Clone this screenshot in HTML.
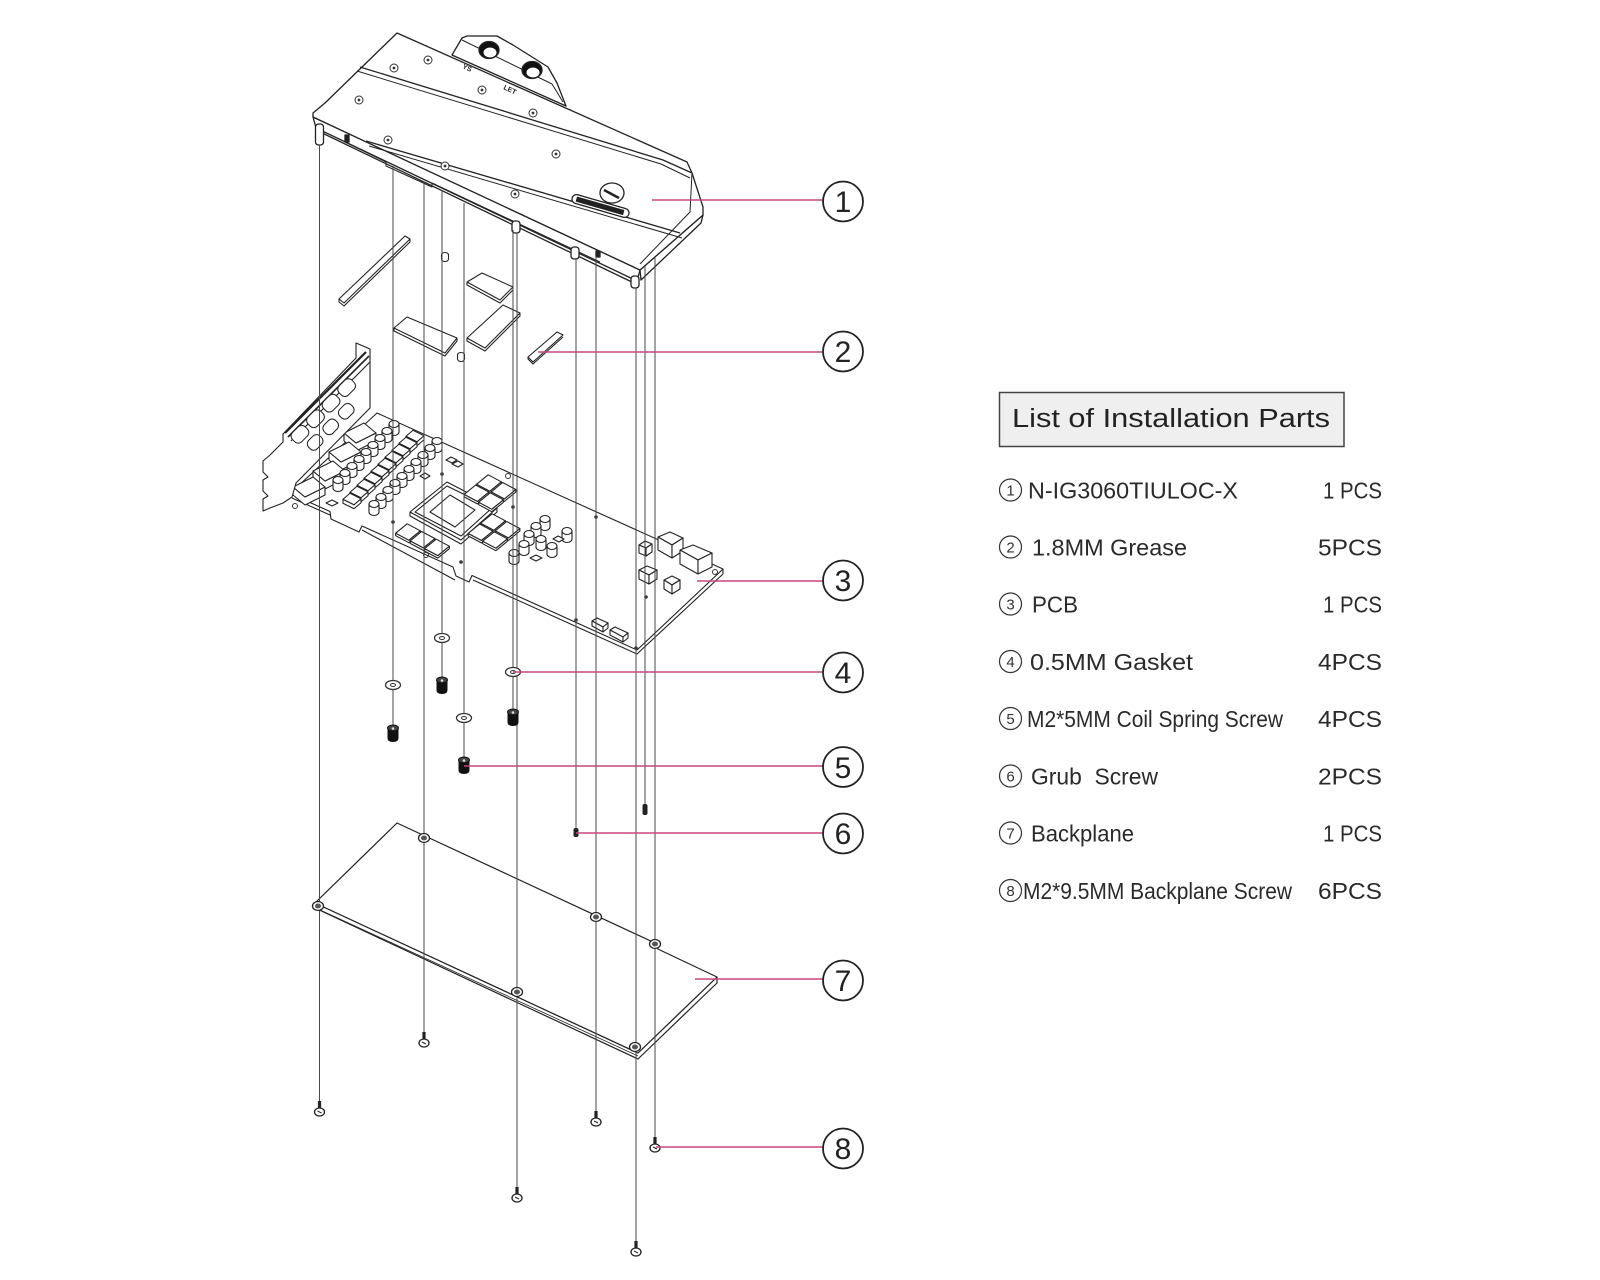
<!DOCTYPE html>
<html><head><meta charset="utf-8"><style>html,body{margin:0;padding:0;background:#fff}svg{display:block}</style></head>
<body>
<svg width="1600" height="1280" viewBox="0 0 1600 1280" xmlns="http://www.w3.org/2000/svg">
<defs>
<g id="cap"><path d="M-5,0 V8 A5,3.5 0 0 0 5,8 V0" fill="#fff"/><ellipse rx="5" ry="3.5" fill="#fff"/></g>
<g id="chip"><polygon points="-12.35,1.2 0.85,8.2 12.35,-1.2 12.35,1.3 0.85,10.7 -12.35,3.7" fill="#fff"/><polygon points="-0.85,-8.2 12.35,-1.2 0.85,8.2 -12.35,1.2" fill="#fff"/></g>
<g id="choke"><polygon points="-9,0.25 2,5.75 9,-0.25 9,3.75 2,9.75 -9,4.25" fill="#fff"/><polygon points="-2,-5.75 9,-0.25 2,5.75 -9,0.25" fill="#fff"/></g>
<g id="big"><polygon points="-16,0 -4,10 16,0 16,8 -4,18 -16,8" fill="#fff"/><polygon points="4,-10 16,0 -4,10 -16,0" fill="#fff"/></g>
<g id="hole"><circle r="4" fill="#fff" stroke="#333" stroke-width="1"/><circle r="1.4" fill="#333"/></g>
<g id="gasket"><ellipse rx="7.5" ry="4.5" fill="#fff" stroke="#333" stroke-width="1.3"/><ellipse rx="2.5" ry="1.5" fill="#fff" stroke="#333" stroke-width="1"/></g>
<g id="cscrew"><path d="M-5.5,-5 V5 Q-5.5,9 0,9 Q5.5,9 5.5,5 V-5 Z" fill="#111"/><ellipse cy="-5" rx="5.5" ry="3" fill="#444" stroke="#111"/><circle cy="-4.5" r="1.3" fill="#ddd"/></g>
<g id="bscrew"><rect x="-1.6" y="-11" width="3.2" height="8" fill="#222"/><ellipse rx="5" ry="4" fill="#fff" stroke="#222" stroke-width="1.3"/><path d="M-2,-1 L2,1" stroke="#222" stroke-width="1"/></g>
<g id="nut"><ellipse rx="5.5" ry="4.5" fill="#fff" stroke="#222" stroke-width="1.3"/><ellipse rx="3" ry="2.5" fill="#555"/></g>
</defs>

<rect width="1600" height="1280" fill="#fff"/>

<!-- Grease pads -->
<g stroke="#222" stroke-width="1.1" fill="#fff" stroke-linejoin="round">
<polygon points="339,299 405,236 410,239 344,303"/>
<polyline points="339,299 339,302 344,306 410,242 410,239" fill="none"/>
<polygon points="467,282 482,273 513,287 500,300"/>
<polyline points="467,282 467,285 500,303 513,290 513,287" fill="none"/>
<polygon points="394,328 407,317 457,338 445,353"/>
<polyline points="394,328 394,331 445,356 457,341 457,338" fill="none"/>
<polygon points="467,338 503,305 520,313 485,348"/>
<polyline points="467,338 467,341 485,351 520,316 520,313" fill="none"/>
<polygon points="528,357 557,332 563,335 533,362"/>
<polyline points="528,357 528,359 533,364 563,337" fill="none"/>
<ellipse cx="445" cy="255" rx="3.5" ry="2.5"/><path d="M441.5,255 v4 a3.5,2.5 0 0 0 7,0 v-4" />
<ellipse cx="461" cy="355" rx="3.5" ry="2.5"/><path d="M457.5,355 v4 a3.5,2.5 0 0 0 7,0 v-4"/>
</g>

<!-- PCB -->
<g stroke="#222" stroke-width="1.1" fill="#fff" stroke-linejoin="round">
<polygon points="377,413 723,569 637,650 472,575.5 469,582 456,576 453,567 362,526 359,532 331,519 330,511.5 290,493.5"/>
<polyline points="723,569 723,574 637,654 473,580" fill="none"/>
<polyline points="455,580 362,530" fill="none"/>
<polyline points="330,515 292,498" fill="none"/>
<!-- big VRM boxes near bracket -->
<use href="#big" x="360" y="433"/>
<use href="#big" x="345" y="452"/>
<use href="#big" x="329" y="471"/>
<use href="#big" x="309" y="487"/>
<!-- cap row 1 -->
<use href="#cap" x="394" y="424"/><use href="#cap" x="387" y="431"/><use href="#cap" x="380" y="438"/>
<use href="#cap" x="373" y="445"/><use href="#cap" x="366" y="452"/><use href="#cap" x="359" y="459"/>
<use href="#cap" x="352" y="466"/><use href="#cap" x="345" y="473"/><use href="#cap" x="338" y="480"/>
<!-- choke column -->
<use href="#choke" x="415" y="436"/><use href="#choke" x="408" y="443"/><use href="#choke" x="401" y="450"/>
<use href="#choke" x="394" y="457"/><use href="#choke" x="387" y="464"/><use href="#choke" x="380" y="471"/>
<use href="#choke" x="373" y="478"/><use href="#choke" x="366" y="485"/><use href="#choke" x="359" y="492"/>
<use href="#choke" x="352" y="499"/>
<!-- cap row 2 -->
<use href="#cap" x="437" y="441"/><use href="#cap" x="430" y="448"/><use href="#cap" x="423" y="455"/>
<use href="#cap" x="416" y="462"/><use href="#cap" x="409" y="469"/><use href="#cap" x="402" y="476"/>
<use href="#cap" x="395" y="483"/><use href="#cap" x="388" y="490"/><use href="#cap" x="381" y="497"/>
<use href="#cap" x="374" y="504"/>
<!-- small chips -->
<polygon points="446,460 451,457 457,460 452,463"/><polygon points="452,464 458,461 463,464 458,467"/>
<polygon points="420,476 425,473 430,476 425,479"/>
<polygon points="326,503 332,500 338,503 332,506"/>
<!-- GPU -->
<polygon points="410,512 447,482 497,508 461,540"/>
<polyline points="410,512 410,516 461,544 497,512 497,508" fill="none"/>
<polygon points="415,512 447,486 492,508 461,536" fill="none"/>
<polygon points="430,512 450,495 475,510 455,527"/>
<!-- VRAM -->
<use href="#chip" x="489" y="483"/><use href="#chip" x="503.5" y="490.7"/>
<use href="#chip" x="476.5" y="493.2"/><use href="#chip" x="491" y="501"/>
<use href="#chip" x="493" y="522"/><use href="#chip" x="507.5" y="529.7"/>
<use href="#chip" x="480.5" y="532.2"/><use href="#chip" x="495" y="540"/>
<use href="#chip" x="408" y="532"/><use href="#chip" x="422.5" y="539.7"/><use href="#chip" x="437" y="547.4"/>
<!-- right area caps -->
<use href="#cap" x="545" y="519"/><use href="#cap" x="536" y="526"/><use href="#cap" x="567" y="531"/>
<use href="#cap" x="529" y="534"/><use href="#cap" x="541" y="539"/><use href="#cap" x="524" y="544"/>
<use href="#cap" x="552" y="546"/><use href="#cap" x="514" y="553"/>
<polygon points="530,558 536,555 542,558 536,561"/><polygon points="553,539 558,536 564,539 559,542"/>
<!-- power connectors -->
<polygon points="658,537 670,532 683,538 672,545"/>
<polygon points="658,537 672,545 672,558 658,550"/>
<polygon points="672,545 683,538 683,551 672,558"/>
<polygon points="680,550 693,545 712,553 698,560"/>
<polygon points="680,550 698,560 698,574 680,564"/>
<polygon points="698,560 712,553 712,567 698,574"/>
<!-- small cubes -->
<polygon points="639,545 645,541 652,544 646,548"/><polygon points="639,545 646,548 646,556 639,553"/><polygon points="646,548 652,544 652,552 646,556"/>
<polygon points="639,570 647,566 657,570 649,575"/><polygon points="639,570 649,575 649,584 639,579"/><polygon points="649,575 657,570 657,579 649,584"/>
<polygon points="664,580 672,576 680,580 672,585"/><polygon points="664,580 672,585 672,594 664,589"/><polygon points="672,585 680,580 680,589 672,594"/>
<polygon points="592,621 597,618 608,623 603,627"/><polygon points="592,621 603,627 603,632 592,626"/><polygon points="603,627 608,623 608,628 603,632"/>
<polygon points="610,630 615,627 628,633 623,637"/><polygon points="610,630 623,637 623,642 610,635"/><polygon points="623,637 628,633 628,638 623,642"/>
</g>
<!-- PCB holes -->
<g fill="#333">
<circle cx="393" cy="522" r="1.8"/><circle cx="442" cy="474" r="1.8"/><circle cx="461" cy="562" r="1.8"/>
<circle cx="513" cy="507" r="1.8"/><circle cx="576" cy="620" r="1.8"/><circle cx="596" cy="517" r="1.8"/>
<circle cx="636" cy="648" r="1.8"/><circle cx="646" cy="597" r="1.8"/>
</g>
<g fill="none" stroke="#333" stroke-width="1"><circle cx="426" cy="555" r="2.5"/><circle cx="508" cy="476" r="2.5"/><circle cx="715" cy="572" r="2.5"/><circle cx="295" cy="506" r="2.5"/></g>

<!-- Bracket -->
<g stroke="#222" stroke-width="1.1" fill="#fff" stroke-linejoin="round">
<polygon points="356,343 370,349 370,408 296,483 292,497 283,503 270,508 263,511 263,499 268,496 263,491 263,480 268,477 263,472 263,461 270,455 283,442 283,434 356,358"/>
<line x1="366" y1="352" x2="285" y2="433" stroke-width="2.2"/>
<line x1="369" y1="356" x2="288" y2="437" stroke-width="1.6"/>
<line x1="370" y1="362" x2="291" y2="441"/>
<g transform="rotate(-45 330 412)" stroke-width="1">
<rect x="284" y="400" width="18" height="13" rx="5"/><rect x="306" y="400" width="18" height="13" rx="5"/>
<rect x="328" y="400" width="18" height="13" rx="5"/><rect x="350" y="400" width="18" height="13" rx="5"/>
<rect x="290" y="417" width="16" height="12" rx="5"/><rect x="312" y="417" width="16" height="12" rx="5"/>
<rect x="334" y="417" width="16" height="12" rx="5"/>
</g>
</g>

<!-- Block -->
<g stroke="#222" stroke-width="1.3" fill="#fff" stroke-linejoin="round">
<polygon points="313,117 640,270 637,281 316,128"/>
<polygon points="703,215 701,223 641,280 640,270"/>
<polyline points="318,131 636,284" fill="none"/>
<polyline points="345,142 386,162 386,166 432,187 432,183 600,262" fill="none" stroke-width="1"/>
<polygon points="397,33 687,162 692,173 703,207 703,215 640,270 313,117 313,113 325,103"/>
<polyline points="360,67 663,160 692,173" fill="none"/>
<polyline points="357,71 661,164 690,178" fill="none" stroke-width="1"/>
<polyline points="366,141 680,233" fill="none"/>
<polyline points="369,146 682,238" fill="none" stroke-width="1"/>
<polyline points="692,173 690,212 640,264" fill="none" stroke-width="1"/>
<!-- terminal -->
<polygon points="452,55 462,38 467,36 497,36 513,45 548,67 557,83 566,106"/>
<polyline points="462,40 552,84 563,102" fill="none" stroke-width="1"/>
<ellipse cx="489" cy="50" rx="10" ry="8.5" fill="#111"/>
<ellipse cx="490" cy="52.5" rx="6.5" ry="5" fill="#fff" stroke="none"/>
<ellipse cx="532" cy="70" rx="10" ry="8.5" fill="#111"/>
<ellipse cx="533" cy="72.5" rx="6.5" ry="5" fill="#fff" stroke="none"/>
<!-- logo / nameplate -->
<ellipse cx="612" cy="193" rx="12" ry="10"/>
<line x1="604" y1="190" x2="619" y2="198" stroke-width="2.5"/>
<g transform="rotate(16 600.5 206)"><rect x="571" y="201.5" width="59" height="9" rx="4.5"/><rect x="576" y="204" width="48" height="4" fill="#222"/></g>
<!-- posts -->
<rect x="315.5" y="124" width="8" height="21" rx="3"/>
<rect x="512" y="221" width="8" height="12" rx="3"/>
<rect x="571" y="247" width="8" height="12" rx="3"/>
<rect x="631" y="276" width="8" height="12" rx="3"/>
<rect x="345" y="135" width="4" height="7" fill="#222"/>
<rect x="596" y="251" width="4" height="6" fill="#222"/>
</g>
<g font-family="Liberation Sans, sans-serif" font-size="7" font-weight="bold" fill="#222">
<text x="462" y="68" transform="rotate(25 462 68)">YS</text>
<text x="503" y="89" transform="rotate(25 503 89)">LET</text>
</g>
<use href="#hole" x="394" y="68"/><use href="#hole" x="428" y="60"/><use href="#hole" x="359" y="100"/>
<use href="#hole" x="482" y="90"/><use href="#hole" x="533" y="113"/><use href="#hole" x="388" y="140"/>
<use href="#hole" x="445" y="166"/><use href="#hole" x="556" y="154"/><use href="#hole" x="515" y="194"/>

<!-- Backplane -->
<g stroke="#222" stroke-width="1.2" fill="#fff" stroke-linejoin="round">
<polygon points="315,903 315,908 638,1059 717,983 717,977 638,1053"/>
<polygon points="397,823 655,943 658,949 662,951 717,977 638,1053 315,903"/>
<polyline points="318,909 638,1056" fill="none" stroke-width="0.8"/>
</g>

<!-- Vertical guide lines -->
<g stroke="#4a4a4a" stroke-width="1">
<line x1="319.5" y1="145" x2="319.5" y2="1106"/>
<line x1="393" y1="166" x2="393" y2="727"/>
<line x1="424" y1="182" x2="424" y2="1037"/>
<line x1="442" y1="190" x2="442" y2="680"/>
<line x1="464" y1="203" x2="464" y2="759"/>
<line x1="513" y1="230" x2="513" y2="711"/>
<line x1="517" y1="233" x2="517" y2="1192"/>
<line x1="576" y1="259" x2="576" y2="829"/>
<line x1="596" y1="256" x2="596" y2="1117"/>
<line x1="636" y1="288" x2="636" y2="1246"/>
<line x1="645" y1="266" x2="645" y2="804"/>
<line x1="655" y1="258" x2="655" y2="1142"/>
</g>

<!-- gaskets / screws -->
<use href="#gasket" x="442" y="638"/><use href="#gasket" x="393" y="685"/>
<use href="#gasket" x="464" y="718"/><use href="#gasket" x="513" y="672"/>
<use href="#cscrew" x="393" y="733"/><use href="#cscrew" x="442" y="685"/>
<use href="#cscrew" x="464" y="765"/><use href="#cscrew" x="513" y="717"/>
<rect x="573.5" y="828" width="5" height="9" rx="2" fill="#222"/>
<rect x="642.5" y="804" width="5" height="11" rx="2" fill="#222"/>
<use href="#nut" x="424" y="838"/><use href="#nut" x="596" y="917"/><use href="#nut" x="655" y="944"/>
<use href="#nut" x="517" y="992"/><use href="#nut" x="635" y="1047"/><use href="#nut" x="318" y="906"/>
<use href="#bscrew" x="319.5" y="1112"/><use href="#bscrew" x="424" y="1043"/><use href="#bscrew" x="517" y="1198"/>
<use href="#bscrew" x="596" y="1122"/><use href="#bscrew" x="636" y="1252"/><use href="#bscrew" x="655" y="1148"/>

<!-- Leaders -->
<g stroke="#c8467f" stroke-width="1.6">
<line x1="652" y1="200" x2="823" y2="200"/>
<line x1="538" y1="352" x2="823" y2="352"/>
<line x1="697" y1="581" x2="823" y2="581"/>
<line x1="513" y1="672" x2="823" y2="672"/>
<line x1="464" y1="766" x2="823" y2="766"/>
<line x1="576" y1="833" x2="823" y2="833"/>
<line x1="695" y1="979" x2="823" y2="979"/>
<line x1="656" y1="1147" x2="823" y2="1147"/>
</g>

<!-- Callout circles -->
<g fill="#fff" stroke="#222" stroke-width="1.8">
<circle cx="843" cy="201.5" r="20"/><circle cx="843" cy="351.5" r="20"/>
<circle cx="843" cy="580.5" r="20"/><circle cx="843" cy="672.5" r="20"/>
<circle cx="843" cy="767" r="20"/><circle cx="843" cy="833.5" r="20"/>
<circle cx="843" cy="980.5" r="20"/><circle cx="843" cy="1148.5" r="20"/>
</g>
<g font-family="Liberation Sans, sans-serif" font-size="30" fill="#222" text-anchor="middle">
<text x="843" y="212">1</text><text x="843" y="362">2</text>
<text x="843" y="591">3</text><text x="843" y="683">4</text>
<text x="843" y="778">5</text><text x="843" y="844">6</text>
<text x="843" y="991">7</text><text x="843" y="1159">8</text>
</g>

<!-- Parts list -->
<rect x="999.5" y="392.5" width="344.5" height="54" fill="#efefef" stroke="#444" stroke-width="1.5"/>
<text x="1012" y="427" font-family="Liberation Sans, sans-serif" font-size="25.5" fill="#222" textLength="318" lengthAdjust="spacingAndGlyphs">List of Installation Parts</text>

<g fill="none" stroke="#333" stroke-width="1.2">
<circle cx="1010.5" cy="490" r="11"/><circle cx="1010.5" cy="547" r="11"/>
<circle cx="1010.5" cy="604" r="11"/><circle cx="1010.5" cy="661.5" r="11"/>
<circle cx="1010.5" cy="718.5" r="11"/><circle cx="1010.5" cy="776" r="11"/>
<circle cx="1010.5" cy="833" r="11"/><circle cx="1010.5" cy="890.5" r="11"/>
</g>
<g font-family="Liberation Sans, sans-serif" font-size="15" fill="#333" text-anchor="middle">
<text x="1010.5" y="495.5">1</text><text x="1010.5" y="552.5">2</text>
<text x="1010.5" y="609.5">3</text><text x="1010.5" y="667">4</text>
<text x="1010.5" y="724">5</text><text x="1010.5" y="781.5">6</text>
<text x="1010.5" y="838.5">7</text><text x="1010.5" y="896">8</text>
</g>
<g font-family="Liberation Sans, sans-serif" font-size="23" fill="#2a2a2a" lengthAdjust="spacingAndGlyphs">
<text x="1028" y="498.5" textLength="210" lengthAdjust="spacingAndGlyphs">N-IG3060TIULOC-X</text>
<text x="1032" y="555.5" textLength="155" lengthAdjust="spacingAndGlyphs">1.8MM Grease</text>
<text x="1032" y="612.5" textLength="46" lengthAdjust="spacingAndGlyphs">PCB</text>
<text x="1030" y="670" textLength="163" lengthAdjust="spacingAndGlyphs">0.5MM Gasket</text>
<text x="1027" y="727" textLength="256" lengthAdjust="spacingAndGlyphs">M2*5MM Coil Spring Screw</text>
<text x="1031" y="784.5" textLength="127" lengthAdjust="spacingAndGlyphs">Grub&#160;&#160;Screw</text>
<text x="1031" y="841.5" textLength="103" lengthAdjust="spacingAndGlyphs">Backplane</text>
<text x="1023" y="899" textLength="269" lengthAdjust="spacingAndGlyphs">M2*9.5MM Backplane Screw</text>
<text x="1323" y="498.5" textLength="59" lengthAdjust="spacingAndGlyphs">1 PCS</text>
<text x="1318" y="555.5" textLength="64" lengthAdjust="spacingAndGlyphs">5PCS</text>
<text x="1323" y="612.5" textLength="59" lengthAdjust="spacingAndGlyphs">1 PCS</text>
<text x="1318" y="670" textLength="64" lengthAdjust="spacingAndGlyphs">4PCS</text>
<text x="1318" y="727" textLength="64" lengthAdjust="spacingAndGlyphs">4PCS</text>
<text x="1318" y="784.5" textLength="64" lengthAdjust="spacingAndGlyphs">2PCS</text>
<text x="1323" y="841.5" textLength="59" lengthAdjust="spacingAndGlyphs">1 PCS</text>
<text x="1318" y="899" textLength="64" lengthAdjust="spacingAndGlyphs">6PCS</text>
</g>
</svg>
</body></html>
